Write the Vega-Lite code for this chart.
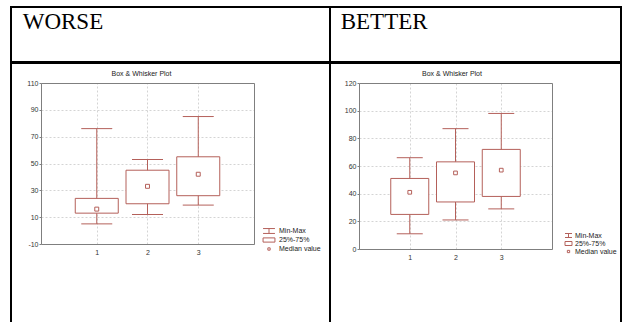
{
  "$schema": "https://vega.github.io/schema/vega-lite/v6.json",
  "background": "white",
  "padding": {"left": 10, "top": 6, "right": 0, "bottom": -15},
  "spacing": -2,
  "datasets": {
    "worse": [
      {"group": 1, "min": 5, "q1": 13, "median": 16, "q3": 24, "max": 76},
      {"group": 2, "min": 12, "q1": 20, "median": 33, "q3": 45, "max": 53},
      {"group": 3, "min": 19, "q1": 26, "median": 42, "q3": 55, "max": 85}
    ],
    "better": [
      {"group": 1, "min": 11, "q1": 25, "median": 41, "q3": 51, "max": 66},
      {"group": 2, "min": 21, "q1": 34, "median": 55, "q3": 63, "max": 87},
      {"group": 3, "min": 29, "q1": 38, "median": 57, "q3": 72, "max": 98}
    ]
  },
  "vconcat": [
    {
      "hconcat": [
        {
          "width": 319, "height": 55,
          "view": {"stroke": "black", "strokeWidth": 2},
          "data": {"values": []},
          "mark": "text",
          "encoding": {},
          "title": {"text": "WORSE", "anchor": "start", "frame": "group", "offset": -45.3, "dx": 11.7, "baseline": "alphabetic", "font": "Liberation Serif", "fontSize": 23, "fontWeight": "normal", "color": "black"}
        },
        {
          "width": 291, "height": 55,
          "view": {"stroke": "black", "strokeWidth": 2},
          "data": {"values": []},
          "mark": "text",
          "encoding": {},
          "title": {"text": "BETTER", "anchor": "start", "frame": "group", "offset": -45.3, "dx": 10.7, "baseline": "alphabetic", "font": "Liberation Serif", "fontSize": 23, "fontWeight": "normal", "color": "black"}
        }
      ],
      "spacing": 0,
      "bounds": "flush"
    },
    {
      "resolve": {"scale": {"shape": "independent"}, "legend": {"shape": "independent"}},
      "hconcat": [
        {
          "width": 319, "height": 274,
          "view": {"stroke": "black", "strokeWidth": 2},
          "title": {"text": "Box & Whisker Plot", "anchor": "middle", "frame": "group", "offset": -19.5, "dx": -29, "baseline": "alphabetic", "font": "Liberation Sans", "fontSize": 7, "fontWeight": "normal", "color": "#222"},
          "data": {"name": "worse"},
          "resolve": {"axis": {"x": "independent", "y": "independent"}},
          "layer": [
            {
              "mark": {"type": "rule", "color": "#b4605a", "strokeWidth": 1},
              "encoding": {
                "x": {"field": "group", "type": "quantitative", "scale": {"domain": [0, 4], "range": [30, 243], "nice": false, "zero": false},
                      "axis": {"orient": "top", "offset": -20, "values": [1, 2, 3], "grid": true, "ticks": false, "labels": false, "title": null}},
                "y": {"field": "min", "type": "quantitative", "scale": {"domain": [-10, 110], "range": [181, 20], "nice": false, "zero": false},
                      "axis": {"orient": "left", "offset": -30, "values": [-10, 10, 30, 50, 70, 90, 110], "labelExpr": "'' + datum.value", "grid": true, "tickSize": 2, "labelPadding": 1, "title": null}},
                "y2": {"field": "max"}
              }
            },
            {
              "mark": {"type": "bar", "size": 43, "fill": "white", "stroke": "#b4605a", "strokeWidth": 1},
              "encoding": {
                "x": {"field": "group", "type": "quantitative", "scale": {"domain": [0, 4], "range": [30, 243], "nice": false, "zero": false}, "axis": null},
                "y": {"field": "q1", "type": "quantitative", "scale": {"domain": [-10, 110], "range": [181, 20], "nice": false, "zero": false}, "axis": null},
                "y2": {"field": "q3"}
              }
            },
            {
              "mark": {"type": "tick", "orient": "horizontal", "size": 31, "thickness": 1, "color": "#b4605a", "opacity": 1},
              "encoding": {
                "x": {"field": "group", "type": "quantitative", "scale": {"domain": [0, 4], "range": [30, 243], "nice": false, "zero": false}, "axis": null},
                "y": {"field": "min", "type": "quantitative", "scale": {"domain": [-10, 110], "range": [181, 20], "nice": false, "zero": false}, "axis": null}
              }
            },
            {
              "mark": {"type": "tick", "orient": "horizontal", "size": 31, "thickness": 1, "color": "#b4605a", "opacity": 1},
              "encoding": {
                "x": {"field": "group", "type": "quantitative", "scale": {"domain": [0, 4], "range": [30, 243], "nice": false, "zero": false}, "axis": null},
                "y": {"field": "max", "type": "quantitative", "scale": {"domain": [-10, 110], "range": [181, 20], "nice": false, "zero": false}, "axis": null}
              }
            },
            {
              "mark": {"type": "point", "filled": false, "size": 144, "strokeWidth": 1, "color": "#b4605a", "opacity": 1},
              "encoding": {
                "x": {"field": "group", "type": "quantitative", "scale": {"domain": [0, 4], "range": [30, 243], "nice": false, "zero": false},
                      "axis": {"orient": "bottom", "offset": -93, "values": [1, 2, 3], "grid": false, "ticks": false, "labelPadding": 4, "title": null}},
                "y": {"field": "median", "type": "quantitative", "scale": {"domain": [-10, 110], "range": [181, 20], "nice": false, "zero": false},
                      "axis": {"orient": "right", "offset": -76, "labels": false, "ticks": false, "grid": false, "title": null}},
                "shape": {
                  "datum": "Median value",
                  "scale": {"domain": ["Min-Max", "25%-75%", "Median value"],
                            "range": ["M-1.7,-0.7H1.7M0,-0.7V0.7M-1.7,0.7H1.7", "M-1.7,-0.6H1.7V0.6H-1.7Z", "M-0.33,-0.33H0.33V0.33H-0.33Z"]},
                  "legend": {"orient": "none", "legendX": 254, "legendY": 164, "title": null, "symbolSize": 49, "symbolStrokeColor": "#b4605a", "symbolFillColor": "transparent", "symbolStrokeWidth": 1, "labelOffset": 6, "rowPadding": -1, "padding": 0}
                }
              }
            }
          ]
        },
        {
          "width": 291, "height": 274,
          "view": {"stroke": "black", "strokeWidth": 2},
          "title": {"text": "Box & Whisker Plot", "anchor": "middle", "frame": "group", "offset": -19.5, "dx": -23.5, "baseline": "alphabetic", "font": "Liberation Sans", "fontSize": 7, "fontWeight": "normal", "color": "#222"},
          "data": {"name": "better"},
          "resolve": {"axis": {"x": "independent", "y": "independent"}},
          "layer": [
            {
              "mark": {"type": "rule", "color": "#b4605a", "strokeWidth": 1},
              "encoding": {
                "x": {"field": "group", "type": "quantitative", "scale": {"domain": [0, 4], "range": [29, 222], "nice": false, "zero": false},
                      "axis": {"orient": "top", "offset": -20, "values": [1, 2, 3], "grid": true, "ticks": false, "labels": false, "title": null}},
                "y": {"field": "min", "type": "quantitative", "scale": {"domain": [0, 120], "range": [186, 20], "nice": false, "zero": false},
                      "axis": {"orient": "left", "offset": -29, "values": [0, 20, 40, 60, 80, 100, 120], "labelExpr": "'' + datum.value", "grid": true, "tickSize": 2, "labelPadding": 1, "title": null}},
                "y2": {"field": "max"}
              }
            },
            {
              "mark": {"type": "bar", "size": 38, "fill": "white", "stroke": "#b4605a", "strokeWidth": 1},
              "encoding": {
                "x": {"field": "group", "type": "quantitative", "scale": {"domain": [0, 4], "range": [29, 222], "nice": false, "zero": false}, "axis": null},
                "y": {"field": "q1", "type": "quantitative", "scale": {"domain": [0, 120], "range": [186, 20], "nice": false, "zero": false}, "axis": null},
                "y2": {"field": "q3"}
              }
            },
            {
              "mark": {"type": "tick", "orient": "horizontal", "size": 26, "thickness": 1, "color": "#b4605a", "opacity": 1},
              "encoding": {
                "x": {"field": "group", "type": "quantitative", "scale": {"domain": [0, 4], "range": [29, 222], "nice": false, "zero": false}, "axis": null},
                "y": {"field": "min", "type": "quantitative", "scale": {"domain": [0, 120], "range": [186, 20], "nice": false, "zero": false}, "axis": null}
              }
            },
            {
              "mark": {"type": "tick", "orient": "horizontal", "size": 26, "thickness": 1, "color": "#b4605a", "opacity": 1},
              "encoding": {
                "x": {"field": "group", "type": "quantitative", "scale": {"domain": [0, 4], "range": [29, 222], "nice": false, "zero": false}, "axis": null},
                "y": {"field": "max", "type": "quantitative", "scale": {"domain": [0, 120], "range": [186, 20], "nice": false, "zero": false}, "axis": null}
              }
            },
            {
              "mark": {"type": "point", "filled": false, "size": 125, "strokeWidth": 1, "color": "#b4605a", "opacity": 1},
              "encoding": {
                "x": {"field": "group", "type": "quantitative", "scale": {"domain": [0, 4], "range": [29, 222], "nice": false, "zero": false},
                      "axis": {"orient": "bottom", "offset": -88, "values": [1, 2, 3], "grid": false, "ticks": false, "labelPadding": 4, "title": null}},
                "y": {"field": "median", "type": "quantitative", "scale": {"domain": [0, 120], "range": [186, 20], "nice": false, "zero": false},
                      "axis": {"orient": "right", "offset": -69, "labels": false, "ticks": false, "grid": false, "title": null}},
                "shape": {
                  "datum": "Median value",
                  "scale": {"domain": ["Min-Max", "25%-75%", "Median value"],
                            "range": ["M-1,-0.57H1M0,-0.57V0.57M-1,0.57H1", "M-1,-0.57H1V0.57H-1Z", "M-0.33,-0.33H0.33V0.33H-0.33Z"]},
                  "legend": {"orient": "none", "legendX": 234.5, "legendY": 168.5, "title": null, "symbolSize": 49, "symbolStrokeColor": "#b4605a", "symbolFillColor": "transparent", "symbolStrokeWidth": 1, "labelOffset": 2.5, "rowPadding": -1.2, "padding": 0}
                }
              }
            }
          ]
        }
      ],
      "spacing": 0,
      "bounds": "flush"
    }
  ],
  "config": {
    "view": {"stroke": null},
    "axis": {"labelFont": "Liberation Sans", "labelFontSize": 7, "labelColor": "#333", "domainColor": "#7f7f7f", "tickColor": "#7f7f7f", "gridColor": "#d4d4d4", "gridDash": [2, 2], "gridWidth": 1},
    "legend": {"labelFont": "Liberation Sans", "labelFontSize": 7, "labelColor": "#222"}
  }
}
